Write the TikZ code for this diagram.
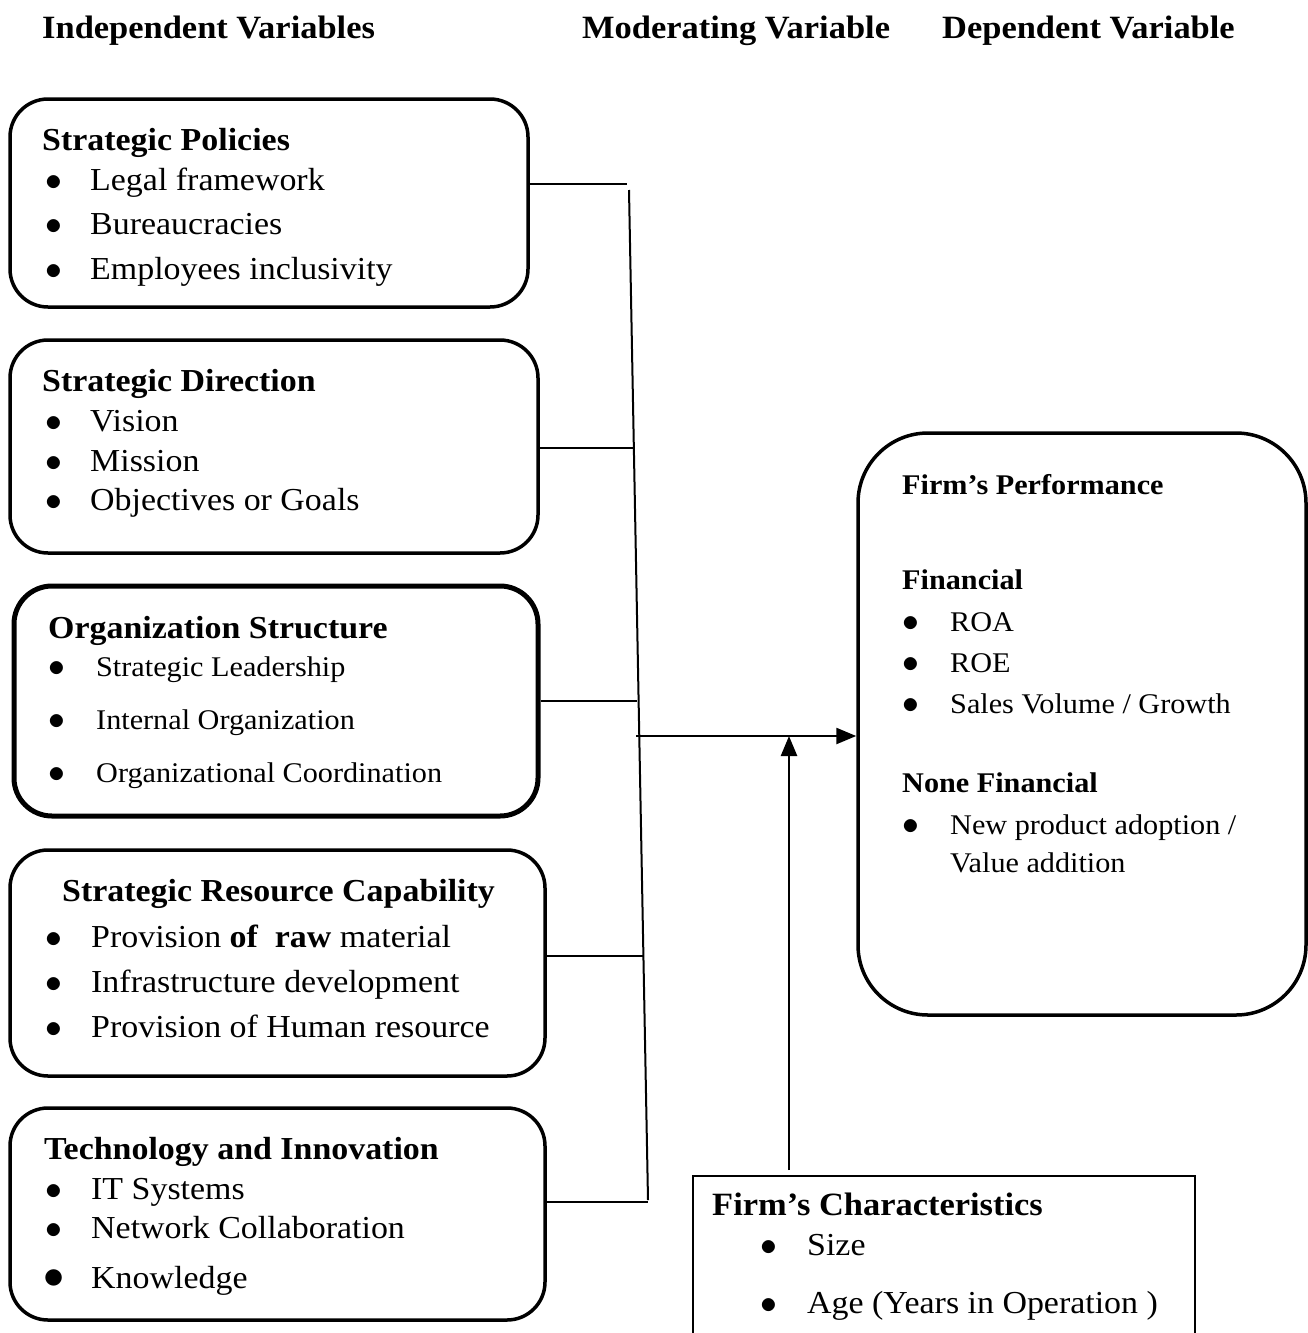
\documentclass[tikz,border=0pt]{standalone}
\usepackage{fontspec}
\setmainfont{Liberation Serif}[FakeStretch=1.06]
\usetikzlibrary{arrows.meta}

\newcommand\bul[1][45pt]{\makebox[#1][l]{\scalebox{1.35}{$\bullet$}}}

\tikzset{
  varbox/.style={draw, line width=3.5pt, rounded corners=38pt, inner sep=0pt},
  head/.style={anchor=base west, inner sep=0pt, font=\bfseries\fontsize{32}{36}\selectfont},
  item/.style={anchor=base west, inner sep=0pt, font=\fontsize{32}{36}\selectfont},
  smallhead/.style={anchor=base west, inner sep=0pt, font=\bfseries\fontsize{28.5}{32}\selectfont},
  smallitem/.style={anchor=base west, inner sep=0pt, font=\fontsize{28.5}{32}\selectfont},
  bighead/.style={anchor=base west, inner sep=0pt, font=\bfseries\fontsize{32.5}{36}\selectfont},
  link/.style={line width=2pt},
  arr/.style={line width=2.5pt, -{Triangle[length=20pt,width=16pt]}},
}

\begin{document}
\begin{tikzpicture}[x=1pt, y=-1pt]
	\useasboundingbox (0,0) rectangle (1308,1333);
	\clip (0,0) rectangle (1308,1333);
	% column titles
	\node[bighead] (tiv) at (42,38) {Independent Variables};
	\node[bighead] (tmv) at (582,38) {Moderating Variable};
	\node[bighead] (tdv) at (942,38) {Dependent Variable};
	% independent variables
	\node[varbox, minimum width=518, minimum height=208] (sp) at (269,203) {};
	\node[head] (sph) at (42,150) {Strategic Policies};
	\node[item] (sp1) at (45,190) {\bul Legal framework};
	\node[item] (sp2) at (45,234) {\bul Bureaucracies};
	\node[item] (sp3) at (45,279) {\bul Employees inclusivity};

	\node[varbox, minimum width=528, minimum height=213] (sd) at (274,446.5) {};
	\node[head] (sdh) at (42,391) {Strategic Direction};
	\node[item] (sd1) at (45,431) {\bul Vision};
	\node[item] (sd2) at (45,471) {\bul Mission};
	\node[item] (sd3) at (45,510) {\bul Objectives or Goals};

	\node[varbox, line width=5pt, minimum width=524, minimum height=230] (os) at (276,701) {};
	\node[head] (osh) at (48,638) {Organization Structure};
	\node[smallitem] (os1) at (48,676) {\bul[48pt]Strategic Leadership};
	\node[smallitem] (os2) at (48,729) {\bul[48pt]Internal Organization};
	\node[smallitem] (os3) at (48,782) {\bul[48pt]Organizational Coordination};

	\node[varbox, minimum width=535, minimum height=226] (sr) at (277.5,963) {};
	\node[head] (srh) at (62,901) {Strategic Resource Capability};
	\node[item] (sr1) at (45,947) {\bul[46pt]Provision \textbf{of\ \ raw} material};
	\node[item] (sr2) at (45,992) {\bul[46pt]Infrastructure development};
	\node[item] (sr3) at (45,1037) {\bul[46pt]Provision of Human resource};

	\node[varbox, minimum width=535, minimum height=212] (ti) at (277.5,1214) {};
	\node[head] (tih) at (44,1159) {Technology and Innovation};
	\node[item] (ti1) at (45,1199) {\bul[46pt]IT Systems};
	\node[item] (ti2) at (45,1238) {\bul[46pt]Network Collaboration};
	\node[item] (ti3) at (43,1288) {\makebox[48pt][l]{\scalebox{1.7}{$\bullet$}}Knowledge};

	% dependent variable
	\node[varbox, rounded corners=70pt, minimum width=448, minimum height=582] (fp) at (1082,724) {};
	\node[smallhead] (fph) at (902,494) {Firm’s Performance};
	\node[smallhead] (fpf) at (902,589) {Financial};
	\node[smallitem] (fp1) at (902,631) {\bul[48pt]ROA};
	\node[smallitem] (fp2) at (902,672) {\bul[48pt]ROE};
	\node[smallitem] (fp3) at (902,713) {\bul[48pt]Sales Volume / Growth};
	\node[smallhead] (fpn) at (902,792) {None Financial};
	\node[smallitem] (fp4) at (902,834) {\bul[48pt]New product adoption /};
	\node[smallitem] (fp5) at (950,872) {Value addition};

	% moderating variable
	\node[draw, line width=1.5pt, anchor=north west, minimum width=502, minimum height=220] (fc) at (692,1175) {};
	\node[bighead] (fch) at (712,1215) {Firm’s Characteristics};
	\node[item] (fc1) at (760,1255) {\bul[47pt]Size};
	\node[item] (fc2) at (760,1313) {\bul[47pt]Age (Years in Operation )};

	% connectors
	\coordinate (st) at (629,190);
	\coordinate (sb) at (648,1200);
	\coordinate (j1) at (627,184);
	\coordinate (j2) at (634,448);
	\coordinate (j3) at (637,701);
	\coordinate (j4) at (643,956);
	\coordinate (j5) at (648,1202);
	\coordinate (hs) at (636,736);
	\coordinate (mj) at (789,736);
	\draw[link] (st) -- (sb);
	\draw[link] (sp.east |- j1) -- (j1);
	\draw[link] (sd.east |- j2) -- (j2);
	\draw[link] (os.east |- j3) -- (j3);
	\draw[link] (sr.east |- j4) -- (j4);
	\draw[link] (ti.east |- j5) -- (j5);
	\draw[arr] (hs) -- (fp.west |- hs);
	\draw[arr, shorten <=5pt] (fc.north -| mj) -- (mj);
\end{tikzpicture}
\end{document}
